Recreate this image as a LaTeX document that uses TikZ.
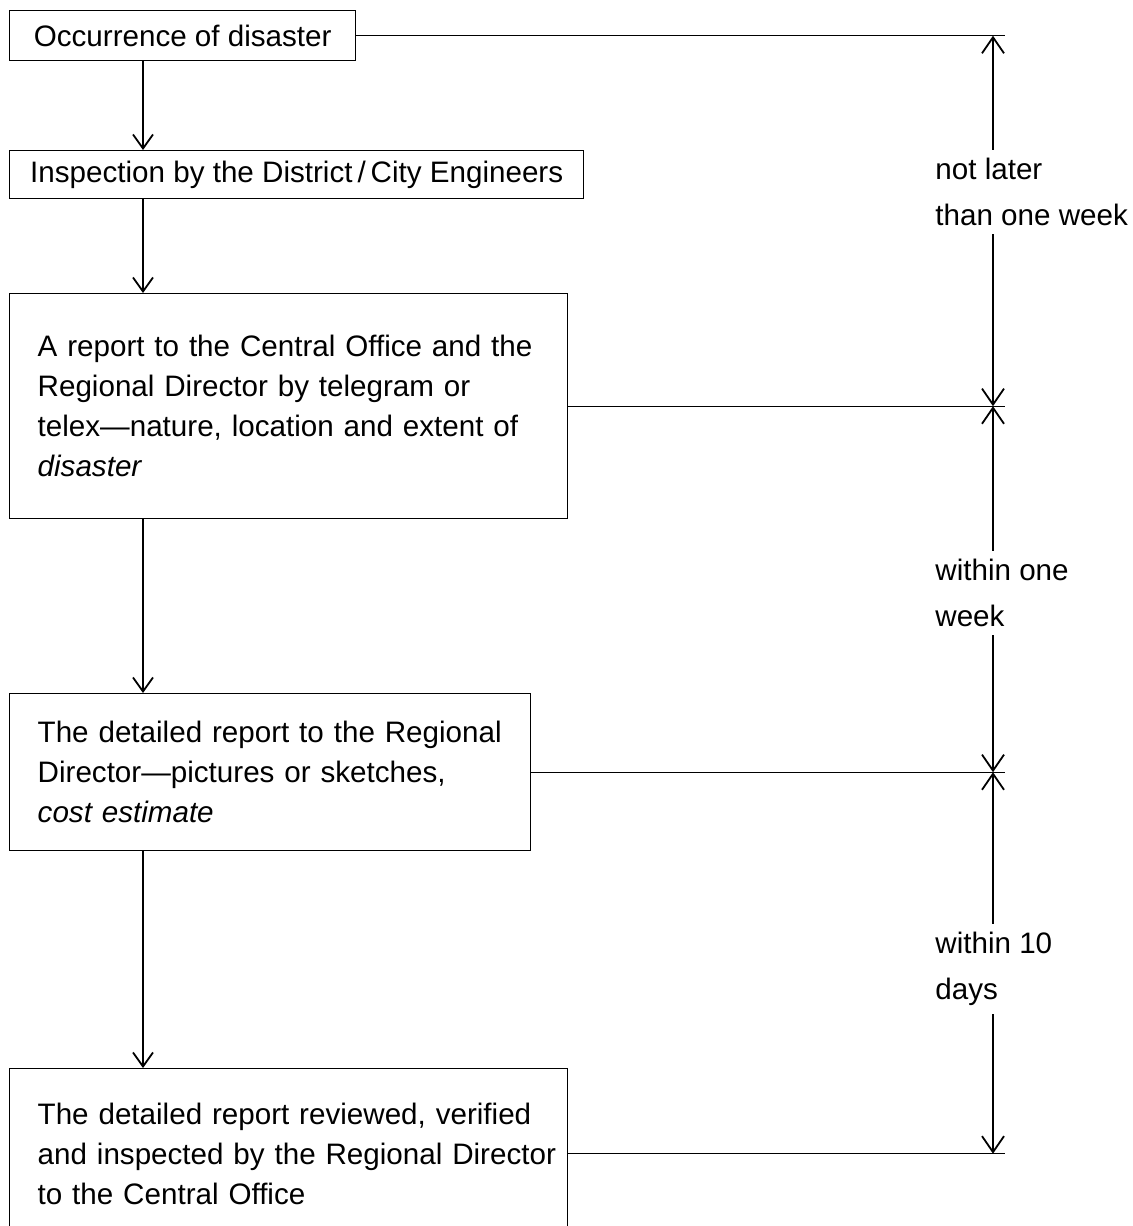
\documentclass[tikz,border=0pt]{standalone}
\usepackage{fontspec}
\setmainfont{Liberation Sans}
\usetikzlibrary{arrows.meta}
\begin{document}
\begin{tikzpicture}[x=0.5pt,y=-0.5pt,
  every node/.style={font=\fontsize{14.8}{20}\selectfont},
  box/.style={draw, line width=0.7pt, anchor=north west, inner sep=0pt},
  textbox/.style={box, align=left, inner xsep=14pt, inner ysep=0pt},
  flow/.style={line width=0.9pt, -{Straight Barb[length=7pt,width=10pt]}},
  span/.style={line width=0.9pt, {Straight Barb[length=8pt,width=11pt]}-{Straight Barb[length=8pt,width=11pt]}},
  lead/.style={line width=0.7pt},
  note/.style={fill=white, align=left, anchor=west, inner xsep=0pt, inner ysep=4pt,
    font=\fontsize{14.8}{23}\selectfont}]
\useasboundingbox (0,0) rectangle (1132,1226);
\clip (0,0) rectangle (1132,1226);

% procedure boxes (each text line kept whole)
\node[box, minimum width=173pt, minimum height=25pt] (b1) at (9,10) {Occurrence of disaster};
\node[box, minimum width=287pt, minimum height=24pt] (b2) at (9,150) {Inspection by the District\,/\,City Engineers};
\node[textbox, text width=251pt, minimum height=112.5pt] (b3) at (9,293)
  {\mbox{A report to the Central Office and the}\\\mbox{Regional Director by telegram or}\\
   \mbox{telex---nature, location and extent of}\\\textit{disaster}};
\node[textbox, text width=232.5pt, minimum height=78.5pt] (b4) at (9,693)
  {\mbox{The detailed report to the Regional}\\\mbox{Director---pictures or sketches,}\\
   \mbox{\textit{cost estimate}}};
\node[textbox, text width=251pt, minimum height=85pt] (b5) at (9,1068)
  {\mbox{The detailed report reviewed, verified}\\\mbox{and inspected by the Regional Director}\\
   \mbox{to the Central Office}};

% main flow
\coordinate (spine) at (143,0);
\draw[flow] (b1.south -| spine) -- (b2.north -| spine);
\draw[flow] (b2.south -| spine) -- (b3.north -| spine);
\draw[flow] (b3.south -| spine) -- (b4.north -| spine);
\draw[flow] (b4.south -| spine) -- (b5.north -| spine);

% time limits
\coordinate (dim) at (993,0);
\path (b1.east -| dim) coordinate (d0)
      (b3.east -| dim) coordinate (d1)
      (b4.east -| dim) coordinate (d2)
      (b5.east -| dim) coordinate (d3);
\draw[lead] (b1.east) -- ([xshift=6pt]d0);
\draw[lead] (b3.east) -- ([xshift=6pt]d1);
\draw[lead] (b4.east) -- ([xshift=6pt]d2);
\draw[lead] (b5.east) -- ([xshift=6pt]d3);
\draw[span] (d0) -- (d1);
\draw[span] (d1) -- (d2);
\draw[span] (d2) -- (d3);

\node[note] (n1) at (935,192) {not later\\than one week};
\node[note] (n2) at (935,593) {within one\\week};
\node[note] (n3) at (935,969) {within 10\\days};
\end{tikzpicture}
\end{document}
